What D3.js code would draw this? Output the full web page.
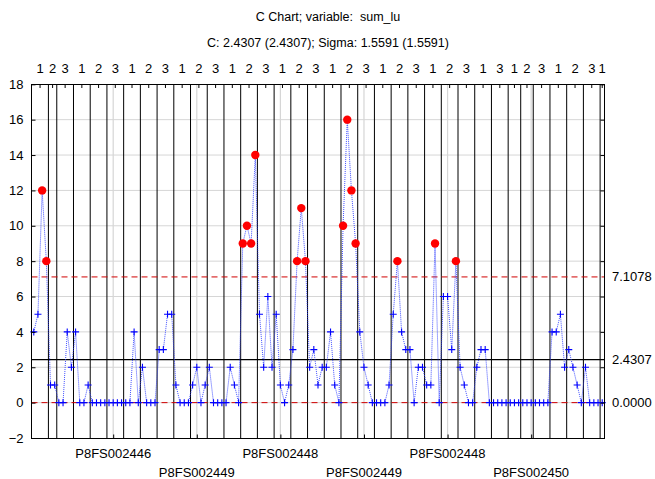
<!DOCTYPE html>
<html>
<head>
<meta charset="utf-8">
<script src="https://cdn.jsdelivr.net/npm/d3@7"></script>
<style>
  html, body { margin: 0; padding: 0; background: #fff; }
  svg { display: block; font-family: Arial, "Liberation Sans", sans-serif; }
  .title { white-space: pre; }
</style>
</head>
<body>
<svg id="chart" width="655" height="479"></svg>
<script>
// Counts of sum_lu per observation, in run order
const values = [
  4, 5, 12, 8, 1, 1, 0, 0, 4, 2, 4, 0, 0, 1, 0,
  0, 0, 0, 0, 0, 0, 0, 0, 0,
  4, 0, 2, 0, 0, 0, 3, 3, 5, 5, 1,
  0, 0, 0, 1, 2, 0, 1, 2, 0, 0, 0, 0, 2, 1, 0,
  9, 10, 9, 14, 5, 2, 6, 2, 5, 1,
  0, 1, 3, 8, 11, 8, 2, 3, 1, 2,
  2, 4, 1, 0, 10, 16, 12, 9, 4, 2,
  1, 0, 0, 0, 0, 1, 5, 8, 4, 3,
  3, 0, 2, 2, 1, 1, 9, 0, 6, 6,
  3, 8, 2, 1, 0, 0, 2, 3, 3, 0,
  0, 0, 0, 0, 0, 0, 0, 0, 0, 0, 0, 0, 0, 0,
  4, 4, 5, 2, 3, 2, 1, 0, 2, 0, 0, 0, 0
];

// Consecutive runs of the grouping variable (top axis)
const groupLabels = [
  "1", "2", "3", "1", "2", "3", "1", "2", "3", "1", "2", "3",
  "1", "2", "3", "1", "2", "3", "1", "2", "3", "1", "2", "3",
  "1", "2", "3", "1", "3", "1", "2", "3", "1", "2", "3", "1"
];
const groupSizes = [
  4, 2, 4, 4, 4, 4, 4, 4, 4, 4, 4, 4,
  4, 4, 4, 4, 4, 4, 4, 4, 4, 4, 4, 4,
  4, 4, 4, 4, 4, 3, 3, 4, 4, 4, 4, 1
];

// Sample identifiers shown on the bottom axis
const sampleTicks = [20, 40, 60, 80, 100, 120];
const sampleLabels = [
  "P8FS002446", "P8FS002449", "P8FS002448",
  "P8FS002449", "P8FS002448", "P8FS002450"
];

const yTicks = [-2, 0, 2, 4, 6, 8, 10, 12, 14, 16, 18];

// C chart statistics
const cBar = d3.mean(values);
const sigma = Math.sqrt(cBar);
const ucl = cBar + 3 * sigma;
const lcl = Math.max(0, cBar - 3 * sigma);
const f4 = d3.format(".4f");

const svg = d3.select("#chart");
const pLeft = 31.5, pRight = 604.5, pTop = 84.5, pBottom = 438.5;

const x = d3.scaleLinear().domain([0.5, values.length + 0.5]).range([pLeft + 0.2, pRight - 0.2]);
const y = d3.scaleLinear().domain([-2, 18]).range([pBottom - 0.5, pTop - 0.2]);

const font = "Arial, 'Liberation Sans', sans-serif";

// Titles
svg.append("text").attr("class", "title").attr("x", 328).attr("y", 21).attr("text-anchor", "middle")
  .attr("font-size", 12.5).attr("fill", "#000")
  .text("C Chart; variable:  sum_lu");
svg.append("text").attr("class", "title").attr("x", 328).attr("y", 47).attr("text-anchor", "middle")
  .attr("font-size", 12.5).attr("fill", "#000")
  .text(`C: ${f4(cBar)} (${f4(cBar)}); Sigma: ${f4(sigma)} (${f4(sigma)})`);

// Horizontal grid
svg.append("g").selectAll("line").data(yTicks.slice(1, -1)).join("line")
  .attr("x1", pLeft).attr("x2", pRight)
  .attr("y1", d => y(d)).attr("y2", d => y(d))
  .attr("stroke", "#d6d6d6").attr("stroke-width", 1);

// Vertical grid at sample ticks
svg.append("g").selectAll("line").data(sampleTicks).join("line")
  .attr("x1", d => x(d)).attr("x2", d => x(d))
  .attr("y1", pTop).attr("y2", pBottom)
  .attr("stroke", "#d6d6d6").attr("stroke-width", 1.2);

// Group boundaries
const bounds = Array.from(d3.cumsum(groupSizes));
const starts = [0, ...bounds.slice(0, -1)];
svg.append("g").selectAll("line").data(bounds.slice(0, -1)).join("line")
  .attr("x1", d => x(d + 0.5)).attr("x2", d => x(d + 0.5))
  .attr("y1", pTop).attr("y2", pBottom)
  .attr("stroke", "#000").attr("stroke-width", 1);

// Control limits
svg.append("line").attr("x1", pLeft).attr("x2", pRight)
  .attr("y1", y(ucl)).attr("y2", y(ucl))
  .attr("stroke", "#d00000").attr("stroke-width", 1).attr("stroke-dasharray", "6,4");
svg.append("line").attr("x1", pLeft).attr("x2", pRight)
  .attr("y1", y(lcl)).attr("y2", y(lcl))
  .attr("stroke", "#d00000").attr("stroke-width", 1).attr("stroke-dasharray", "6,4");
svg.append("line").attr("x1", pLeft).attr("x2", pRight)
  .attr("y1", y(cBar)).attr("y2", y(cBar))
  .attr("stroke", "#000").attr("stroke-width", 1.2);

// Data line
const pts = values.map((v, i) => ({ k: i + 1, v }));
svg.append("path").datum(pts)
  .attr("fill", "none").attr("stroke", "#2233ff").attr("stroke-width", 1)
  .attr("stroke-dasharray", "1,1").attr("opacity", 0.85)
  .attr("d", d3.line().x(d => x(d.k)).y(d => y(d.v)));

// In-control markers
const inCtl = pts.filter(d => d.v <= ucl && d.v >= lcl);
svg.append("g").selectAll("path").data(inCtl).join("path")
  .attr("d", d => `M${x(d.k) - 3.5},${y(d.v)}H${x(d.k) + 3.5}M${x(d.k)},${y(d.v) - 3.5}V${y(d.v) + 3.5}`)
  .attr("stroke", "#0000ff").attr("stroke-width", 1.1).attr("fill", "none");

// Out-of-control markers
svg.append("g").selectAll("circle").data(pts.filter(d => d.v > ucl || d.v < lcl)).join("circle")
  .attr("cx", d => x(d.k)).attr("cy", d => y(d.v)).attr("r", 4.2)
  .attr("fill", "#ff0000");

// Frame
svg.append("rect").attr("x", pLeft).attr("y", pTop)
  .attr("width", pRight - pLeft).attr("height", pBottom - pTop)
  .attr("fill", "none").attr("stroke", "#000").attr("stroke-width", 1);

// Left axis
const yAxisL = d3.axisLeft(y).tickValues(yTicks).tickSize(-4).tickPadding(8).tickFormat(d3.format("d"));
const gl = svg.append("g").attr("transform", `translate(${pLeft},0)`).call(yAxisL);
gl.select(".domain").remove();
gl.selectAll("text").attr("font-size", 13).attr("font-family", font).attr("fill", "#000");

// Right axis ticks
const yAxisR = d3.axisRight(y).tickValues(yTicks).tickSize(-4).tickFormat("");
const gr = svg.append("g").attr("transform", `translate(${pRight},0)`).call(yAxisR);
gr.select(".domain").remove();

// Right-hand limit labels
[ucl, cBar, lcl].forEach(v => {
  svg.append("text").attr("x", 612).attr("y", y(v) + 4.5)
    .attr("font-size", 13).attr("fill", "#000").text(f4(v));
});

// Top axis: group labels at run centres
const groupCentres = groupLabels.map((g, i) => ({ g, c: starts[i] + groupSizes[i] / 2 + 0.5 }));
svg.append("g").selectAll("line").data(groupCentres).join("line")
  .attr("x1", d => x(d.c)).attr("x2", d => x(d.c))
  .attr("y1", pTop).attr("y2", pTop + 3.5).attr("stroke", "#000");
svg.append("g").selectAll("text").data(groupCentres).join("text")
  .attr("x", d => x(d.c)).attr("y", 73).attr("text-anchor", "middle")
  .attr("font-size", 13).attr("fill", "#000").text(d => d.g);

// Bottom axis: sample labels in two staggered rows
const xAxisB = d3.axisBottom(x).tickValues(sampleTicks).tickSize(-4).tickFormat("");
const gb = svg.append("g").attr("transform", `translate(0,${pBottom})`).call(xAxisB);
gb.select(".domain").remove();
svg.append("g").selectAll("text").data(sampleTicks).join("text")
  .attr("x", d => x(d)).attr("y", (d, i) => i % 2 === 0 ? 458 : 477)
  .attr("text-anchor", "middle").attr("font-size", 13).attr("fill", "#000")
  .text((d, i) => sampleLabels[i]);
</script>
</body>
</html>
